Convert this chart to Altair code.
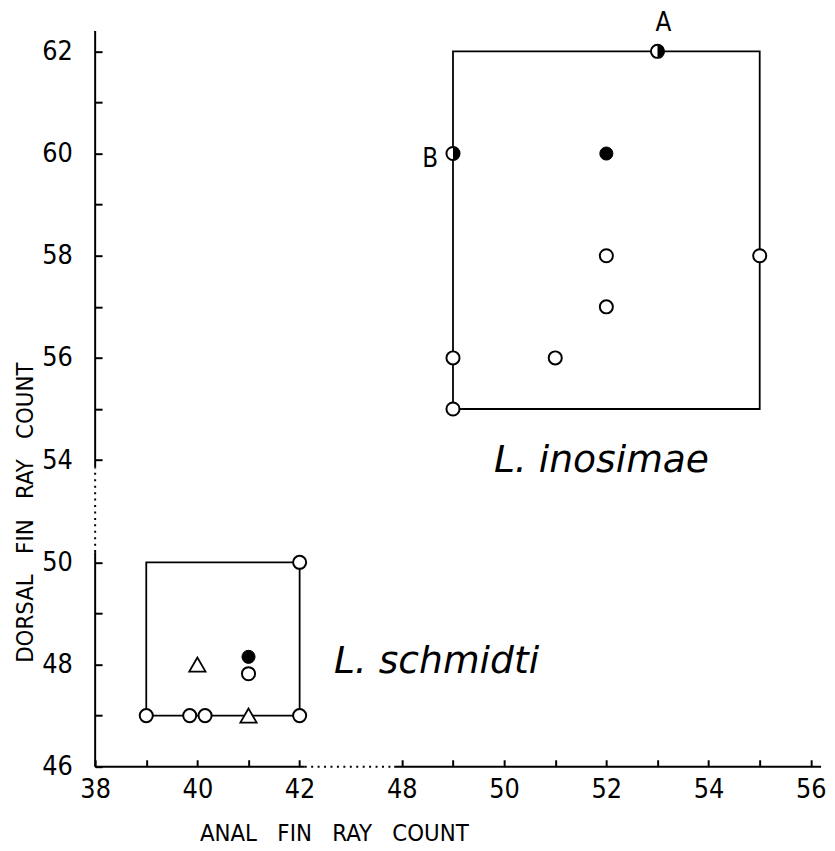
import altair as alt
import pandas as pd

# ---------------- data ----------------
# L. inosimae
ino_x = [53, 49, 52, 52, 55, 52, 49, 51, 49]
ino_y = [62, 60, 60, 58, 58, 57, 56, 56, 55]
ino_kind = ["half", "half", "filled", "open", "open", "open", "open", "open", "open"]

# L. schmidti
sch_x = [42, 40, 41, 41, 39, 39.85, 40.15, 41, 42]
sch_y = [50, 48, 48.15, 47.82, 47, 47, 47, 47, 47]
sch_kind = ["open", "triangle", "filled", "open", "open", "open", "open", "triangle", "open"]

# range boxes per species
box_species = ["L. inosimae", "L. schmidti"]
box_x0 = [49, 39]
box_x1 = [55, 42]
box_y0 = [55, 47]
box_y1 = [62, 50]

# letter labels on specimens
letter_text = ["A", "B"]
letter_x = [53, 49]
letter_y = [62, 60]

# species name annotations (display units of the broken axes)
species_text = ["L. inosimae", "L. schmidti"]
species_xd = [45.8, 42.67]
species_yd = [51.76, 47.84]

# axis ticks (original units) and breaks
x_ticks = [38, 39, 40, 41, 42, 48, 49, 50, 51, 52, 53, 54, 55, 56]
y_ticks = [46, 47, 48, 49, 50, 54, 55, 56, 57, 58, 59, 60, 61, 62]
X_BREAK_LO, X_BREAK_HI = 42, 48   # 6 units drawn as 2
Y_BREAK_LO, Y_BREAK_HI = 50, 54   # 4 units drawn as 2

# axis line pieces in display units: (start, end, style)
x_axis_parts = [(38, 42.1, "solid"), (42.1, 43.85, "dot"), (43.85, 52.2, "solid")]
y_axis_parts = [(46, 50.2, "solid"), (50.2, 51.85, "dot"), (51.85, 60.4, "solid")]


def tx(v):
    return v - (X_BREAK_HI - X_BREAK_LO - 2) if v >= X_BREAK_HI else v


def ty(v):
    return v - (Y_BREAK_HI - Y_BREAK_LO - 2) if v >= Y_BREAK_HI else v


pts = pd.DataFrame({
    "x": ino_x + sch_x,
    "y": ino_y + sch_y,
    "kind": ino_kind + sch_kind,
})
pts["xd"] = pts["x"].map(tx)
pts["yd"] = pts["y"].map(ty)

boxes = pd.DataFrame({
    "species": box_species,
    "x0": [tx(v) for v in box_x0], "x1": [tx(v) for v in box_x1],
    "y0": [ty(v) for v in box_y0], "y1": [ty(v) for v in box_y1],
})

letters = pd.DataFrame({"t": letter_text,
                        "xd": [tx(v) for v in letter_x],
                        "yd": [ty(v) for v in letter_y]})
species = pd.DataFrame({"t": species_text, "xd": species_xd, "yd": species_yd})

xparts = pd.DataFrame(x_axis_parts, columns=["a", "b", "style"])
yparts = pd.DataFrame(y_axis_parts, columns=["a", "b", "style"])

XDOM = [38, 52.2]
YDOM = [46, 60.4]
xs = alt.Scale(domain=XDOM, nice=False, zero=False)
ys = alt.Scale(domain=YDOM, nice=False, zero=False)

LABEL_FONT = "Liberation Sans Narrow, DejaVu Sans Condensed, Arial Narrow, sans-serif"
NB = "\u00a0" * 3

x_tick_disp = [tx(v) for v in x_ticks]
y_tick_disp = [ty(v) for v in y_ticks]

x_axis = alt.Axis(
    values=x_tick_disp,
    labelExpr=f"datum.value % 2 == 0 ? toString(datum.value >= {tx(X_BREAK_HI)} ? datum.value + {X_BREAK_HI - X_BREAK_LO - 2} : datum.value) : ''",
    title=f"ANAL{NB}FIN{NB}RAY{NB}COUNT",
    titleX=241, titleY=82, titleBaseline="alphabetic", titleAlign="center",
    offset=-7, tickSize=7, labelPadding=10, labelFlush=False, labelOverlap=False,
)
y_axis = alt.Axis(
    values=y_tick_disp,
    labelExpr=f"datum.value % 2 == 0 ? toString(datum.value >= {ty(Y_BREAK_HI)} ? datum.value + {Y_BREAK_HI - Y_BREAK_LO - 2} : datum.value) : ''",
    title=f"DORSAL{NB}FIN{NB}RAY{NB}COUNT",
    titleX=-70, titleY=486, titleBaseline="alphabetic", titleAlign="center", titleAngle=-90,
    offset=-7, tickSize=7, labelPadding=23, labelFlush=False, labelOverlap=False,
)

# every layer carries the same axis definition, so the merged axis keeps it
enc = dict(x=alt.X("xd:Q", scale=xs, axis=x_axis), y=alt.Y("yd:Q", scale=ys, axis=y_axis))

# axis lines
xline_solid = alt.Chart(xparts).transform_filter("datum.style == 'solid'").mark_rule(
    color="black", strokeWidth=2).encode(
    x=alt.X("a:Q", scale=xs, axis=x_axis), x2="b:Q", y=alt.datum(46, scale=ys, axis=y_axis))
xline_dot = alt.Chart(xparts).transform_filter("datum.style == 'dot'").mark_rule(
    color="black", strokeWidth=2, strokeDash=[2, 4.5]).encode(
    x=alt.X("a:Q", scale=xs, axis=x_axis), x2="b:Q", y=alt.datum(46, scale=ys, axis=y_axis))
yline_solid = alt.Chart(yparts).transform_filter("datum.style == 'solid'").mark_rule(
    color="black", strokeWidth=2).encode(
    y=alt.Y("a:Q", scale=ys, axis=y_axis), y2="b:Q", x=alt.datum(38, scale=xs, axis=x_axis))
yline_dot = alt.Chart(yparts).transform_filter("datum.style == 'dot'").mark_rule(
    color="black", strokeWidth=2, strokeDash=[2, 4.5]).encode(
    y=alt.Y("a:Q", scale=ys, axis=y_axis), y2="b:Q", x=alt.datum(38, scale=xs, axis=x_axis))

box_layer = alt.Chart(boxes).mark_rect(
    fill="white", fillOpacity=0, stroke="black", strokeWidth=1.8).encode(
    x=alt.X("x0:Q", scale=xs, axis=x_axis), x2="x1:Q",
    y=alt.Y("y0:Q", scale=ys, axis=y_axis), y2="y1:Q")

open_layer = alt.Chart(pts).transform_filter(
    "datum.kind == 'open' || datum.kind == 'half'").mark_point(
    shape="circle", filled=True, fill="white", stroke="black", strokeWidth=2,
    size=175, opacity=1).encode(**enc)
half_layer = alt.Chart(pts).transform_filter("datum.kind == 'half'").mark_point(
    shape="M0,-1A1,1,0,0,1,0,1Z", filled=True, fill="black", strokeWidth=0,
    size=195, opacity=1).encode(**enc)
filled_layer = alt.Chart(pts).transform_filter("datum.kind == 'filled'").mark_point(
    shape="circle", filled=True, fill="black", stroke="black", strokeWidth=1,
    size=175, opacity=1).encode(**enc)
tri_layer = alt.Chart(pts).transform_filter("datum.kind == 'triangle'").mark_point(
    shape="triangle-up", filled=True, fill="white", stroke="black", strokeWidth=1.8,
    size=270, opacity=1).encode(**enc)

letter_a = alt.Chart(letters).transform_filter("datum.t == 'A'").mark_text(
    font=LABEL_FONT, fontSize=26, color="black", dx=6, dy=-29).encode(
    text="t:N", **enc)
letter_b = alt.Chart(letters).transform_filter("datum.t == 'B'").mark_text(
    font=LABEL_FONT, fontSize=26, color="black", dx=-23, dy=6).encode(
    text="t:N", **enc)

species_layer = alt.Chart(species).mark_text(
    font="DejaVu Sans", fontStyle="italic", fontSize=38, color="black",
    align="left", baseline="alphabetic").encode(text="t:N", **enc)

chart = alt.layer(
    box_layer, xline_solid, xline_dot, yline_solid, yline_dot,
    open_layer, half_layer, filled_layer, tri_layer, letter_a, letter_b, species_layer,
).properties(
    width=733, height=743,
    autosize=alt.AutoSizeParams(type="none"),
    padding={"left": 88, "top": 19, "right": 6, "bottom": 80},
).configure_view(stroke=None).configure_axis(
    grid=False, domain=False, tickColor="black", tickWidth=2,
    labelFont=LABEL_FONT, labelFontSize=27, labelColor="black",
    titleFont=LABEL_FONT, titleFontSize=24, titleFontWeight="normal", titleColor="black",
)

chart.save("out.html", embed_options={"renderer": "svg", "actions": False})
